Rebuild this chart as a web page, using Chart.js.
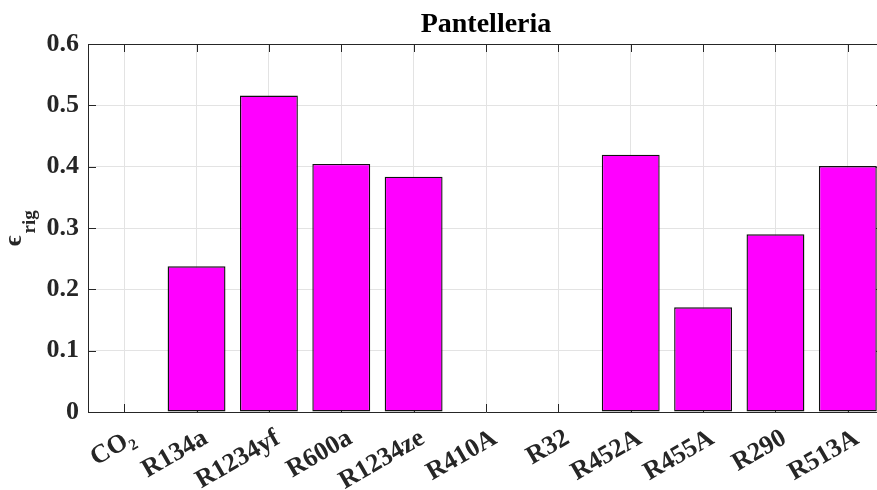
<!DOCTYPE html>
<html>
<head>
<meta charset="utf-8">
<script src="https://cdn.jsdelivr.net/npm/chart.js@4"></script>
<style>
  html, body { margin: 0; padding: 0; background: #fff; overflow: hidden; width: 877px; height: 490px; }
  #wrap { width: 900px; height: 490px; position: relative; }
  canvas { display: block; }
</style>
</head>
<body>
<div id="wrap"><canvas id="c" width="900" height="490" style="width:900px;height:490px"></canvas></div>
<script>
// Refrigerant candidates and their rig efficiency at the Pantelleria site
const refrigerants = ['CO₂', 'R134a', 'R1234yf', 'R600a', 'R1234ze', 'R410A', 'R32', 'R452A', 'R455A', 'R290', 'R513A'];
const epsRig = [0, 0.2375, 0.516, 0.4044, 0.3837, 0, 0, 0.4196, 0.1707, 0.2897, 0.4011];
const yTickLabels = ['0', '0.1', '0.2', '0.3', '0.4', '0.5', '0.6'];
const chartTitle = 'Pantelleria';
const yLabelMain = 'ϵ';
const yLabelSub = 'rig';

const SERIF = '"Liberation Serif", "Times New Roman", serif';
const AXIS_COLOR = '#262626';

// Box frame: inward tick marks, top edge, title and the subscripted y label
const framePlugin = {
  id: 'frame',
  beforeDatasetsDraw(chart) {
    const { ctx, chartArea: a, scales: { x } } = chart;
    ctx.save();
    ctx.strokeStyle = AXIS_COLOR;
    ctx.lineWidth = 1;
    ctx.beginPath();
    x.ticks.forEach((t, i) => {
      const px = Math.round(x.getPixelForTick(i)) + 0.5;
      ctx.moveTo(px, a.bottom);
      ctx.lineTo(px, a.bottom - 8);
    });
    ctx.stroke();
    ctx.restore();
  },
  afterDraw(chart) {
    const { ctx, chartArea: a, scales: { x, y } } = chart;
    ctx.save();
    ctx.strokeStyle = AXIS_COLOR;
    ctx.lineWidth = 1;
    ctx.beginPath();
    // top edge of the box
    ctx.moveTo(a.left, Math.round(a.top) + 0.5);
    ctx.lineTo(a.right, Math.round(a.top) + 0.5);
    // right edge of the box
    ctx.moveTo(Math.round(a.right) + 0.5, a.top);
    ctx.lineTo(Math.round(a.right) + 0.5, a.bottom);
    // top ticks
    x.ticks.forEach((t, i) => {
      const px = Math.round(x.getPixelForTick(i)) + 0.5;
      ctx.moveTo(px, a.top);
      ctx.lineTo(px, a.top + 8);
    });
    // left / right ticks
    y.ticks.forEach((t, i) => {
      const py = Math.round(y.getPixelForTick(i)) + 0.5;
      ctx.moveTo(a.left, py);
      ctx.lineTo(a.left + 8, py);
      ctx.moveTo(a.right, py);
      ctx.lineTo(a.right - 8, py);
    });
    ctx.stroke();

    // title
    ctx.fillStyle = '#000';
    ctx.font = 'bold 28px ' + SERIF;
    ctx.textAlign = 'center';
    ctx.textBaseline = 'alphabetic';
    ctx.fillText(chartTitle, (a.left + a.right) / 2, 32);

    // y axis label with subscript, rotated
    ctx.translate(20.5, 246);
    ctx.rotate(-Math.PI / 2);
    ctx.fillStyle = AXIS_COLOR;
    ctx.textAlign = 'left';
    ctx.font = 'bold 25px ' + SERIF;
    ctx.fillText(yLabelMain, 0, 0);
    const w = ctx.measureText(yLabelMain).width;
    ctx.font = 'bold 19px ' + SERIF;
    ctx.fillText(yLabelSub, w + 2, 14);
    ctx.restore();
  }
};

new Chart(document.getElementById('c'), {
  type: 'bar',
  data: {
    labels: refrigerants,
    datasets: [{
      data: epsRig,
      backgroundColor: '#ff00ff',
      borderColor: '#111111',
      borderWidth: 1.4,
      borderSkipped: false,
      categoryPercentage: 1.0,
      barPercentage: 0.8
    }]
  },
  options: {
    responsive: false,
    animation: false,
    layout: { padding: { top: 44, right: 16, bottom: 0, left: 0 } },
    plugins: {
      legend: { display: false },
      title: { display: false },
      tooltip: { enabled: false }
    },
    scales: {
      x: {
        offset: true,
        grid: { offset: false, color: '#e3e3e3', drawTicks: false },
        border: { color: AXIS_COLOR, width: 1 },
        ticks: {
          color: AXIS_COLOR,
          font: { family: SERIF, size: 26, weight: 'bold' },
          minRotation: 30,
          maxRotation: 30,
          autoSkip: false,
          padding: 11,
          labelOffset: 9
        },
        afterFit(scale) { scale.height = 78; }
      },
      y: {
        min: 0,
        max: 0.6,
        grid: { color: '#e3e3e3', drawTicks: false },
        border: { color: AXIS_COLOR, width: 1 },
        ticks: {
          stepSize: 0.1,
          color: AXIS_COLOR,
          font: { family: SERIF, size: 26, weight: 'bold' },
          padding: 9,
          callback: (v, i) => yTickLabels[i]
        },
        afterFit(scale) { scale.width = 88; }
      }
    }
  },
  plugins: [framePlugin]
});
</script>
</body>
</html>
